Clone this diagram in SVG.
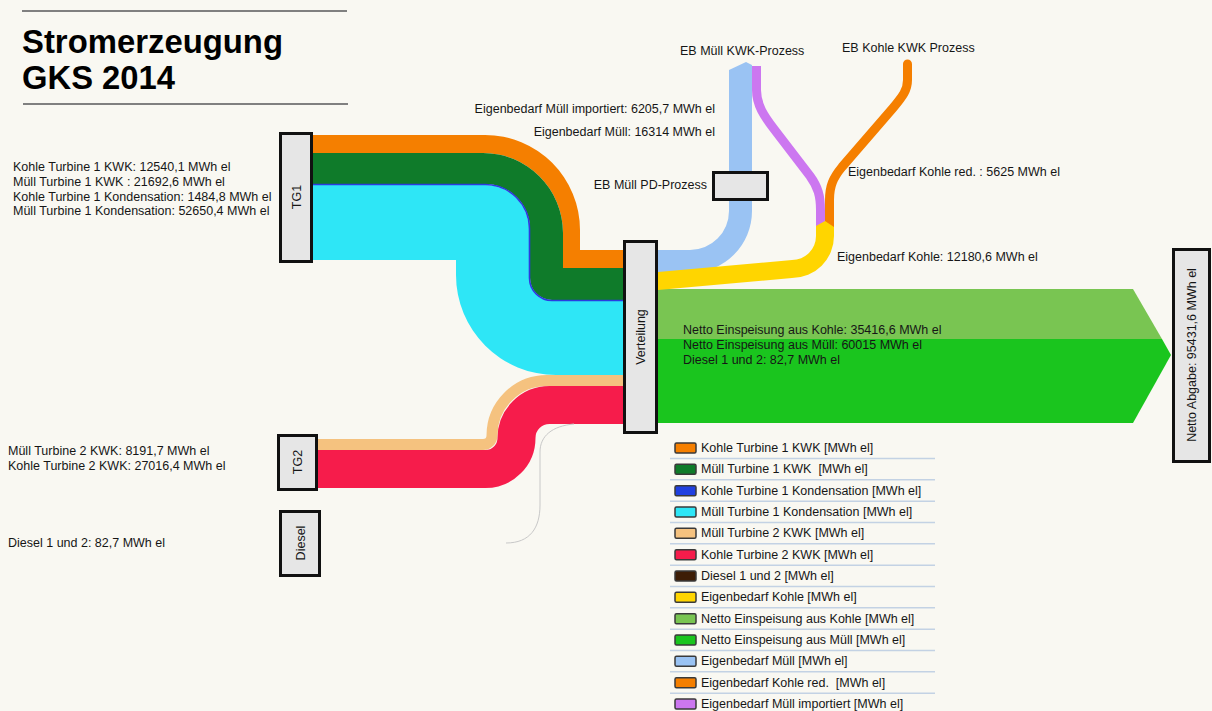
<svg xmlns="http://www.w3.org/2000/svg" width="1212" height="711" viewBox="0 0 1212 711">
<style>
.t{font-family:"Liberation Sans",Arial,sans-serif;font-size:12.5px;fill:#161616}
.title{font-family:"Liberation Sans",Arial,sans-serif;font-size:34px;font-weight:bold;fill:#000}
.node{fill:#e6e6e6;stroke:#111;stroke-width:3}
.sw{stroke:#3a3a3a;stroke-width:1.5}
.sep{stroke:#c3d2e4;stroke-width:1.5}
</style>
<rect x="0" y="0" width="1212" height="711" fill="#f9f8f2"/>
<g id="title">
<line x1="22" y1="11" x2="347" y2="11" stroke="#808080" stroke-width="2"/>
<line x1="23" y1="104" x2="348" y2="104" stroke="#808080" stroke-width="2"/>
<text class="title" x="22" y="53" textLength="261" lengthAdjust="spacingAndGlyphs">Stromerzeugung</text>
<text class="title" x="22" y="89" textLength="153" lengthAdjust="spacingAndGlyphs">GKS 2014</text>
</g>
<g id="connectors">
<path d="M313,135 H485 A95,95 0 0 1 580,230 V250 H623 V268 H563 V233 A80,80 0 0 0 483,153 H313 Z" fill="#f57f00"/>
<path d="M313,153 H483 A80,80 0 0 1 563,233 V268 H623 V300 H552 A22,22 0 0 1 530,278 V229 A45,45 0 0 0 485,184 H313 Z" fill="#0f7b2a"/>
<path d="M313,185 H485 A44,44 0 0 1 529,229 V278 A23,23 0 0 0 552,301 H623 V375 H556 A100,100 0 0 1 456,275 V260 H313 Z" fill="#2ee6f6"/>
<path d="M313,184.5 H485 A44.5,44.5 0 0 1 529.5,229 V278 A22.5,22.5 0 0 0 552,300.5 H623" fill="none" stroke="#2b3be0" stroke-width="1.6"/>
<path d="M318,444.5 H483 A9,9 0 0 0 492,435.5 A55,55 0 0 1 547,380.5 H623" fill="none" stroke="#f5c27f" stroke-width="11"/>
<path d="M318,469 H485.5 A31,31 0 0 0 516.5,438 A33,33 0 0 1 549.5,405 H623" fill="none" stroke="#f61c4b" stroke-width="38"/>
<path d="M506,543 C530,543 540,528 540,505 V452 C540,436 552,426 574,424" fill="none" stroke="#c8c8c8" stroke-width="1"/>
<path d="M658,289 H1133 L1162,339 H658 Z" fill="#79c552"/>
<path d="M658,339 H1162 L1171,355 L1133,423 H658 Z" fill="#1ac51e"/>
<path d="M658,250 H690 A39,39 0 0 0 729,211 V70 L746,62 L752,65 V211 A62,62 0 0 1 690,273 H658 Z" fill="#9ac3f3"/>
<path d="M756.5,66 V90 C756.5,105 764,116 774,129 L810,176 C818,187 820.5,196 820.5,210 V227" fill="none" stroke="#cc77f0" stroke-width="9"/>
<path d="M829.5,228 V200 C829.5,186 833,178 842,167 L893,108 C903,96 907.5,90 907.5,80 V64" fill="none" stroke="#f57f00" stroke-width="9" stroke-linecap="round"/>
<path d="M658,272 L792,260 A24,24 0 0 0 816,236 V226 L825,221 L834,227 V236 A42,42 0 0 1 792,278 L658,290 Z" fill="#ffd500"/>
</g>
<g id="TG1"><rect class="node" x="280.5" y="133.5" width="31" height="128"/><text class="t" transform="translate(300.5,197) rotate(-90)" text-anchor="middle">TG1</text></g>
<g id="TG2"><rect class="node" x="278.5" y="435.5" width="38" height="54"/><text class="t" transform="translate(301.5,462) rotate(-90)" text-anchor="middle">TG2</text></g>
<g id="Diesel"><rect class="node" x="280.5" y="511.5" width="39" height="64"/><text class="t" transform="translate(304.5,543) rotate(-90)" text-anchor="middle">Diesel</text></g>
<g id="Verteilung"><rect class="node" x="624.5" y="241.5" width="32" height="191"/><text class="t" transform="translate(644.5,337) rotate(-90)" text-anchor="middle">Verteilung</text></g>
<g id="PD"><rect class="node" x="713.5" y="172.5" width="54" height="27"/></g>
<g id="NettoAbgabe"><rect class="node" x="1173.5" y="249.5" width="36" height="212"/><text class="t" transform="translate(1196,355) rotate(-90)" text-anchor="middle">Netto Abgabe: 95431,6 MWh el</text></g>
<g id="labels">
<text class="t" x="13" y="171">Kohle Turbine 1 KWK: 12540,1 MWh el</text>
<text class="t" x="13" y="186">Müll Turbine 1 KWK : 21692,6 MWh el</text>
<text class="t" x="13" y="201">Kohle Turbine 1 Kondensation: 1484,8 MWh el</text>
<text class="t" x="13" y="215">Müll Turbine 1 Kondensation: 52650,4 MWh el</text>
<text class="t" x="8" y="455">Müll Turbine 2 KWK: 8191,7 MWh el</text>
<text class="t" x="8" y="470">Kohle Turbine 2 KWK: 27016,4 MWh el</text>
<text class="t" x="8" y="547">Diesel 1 und 2: 82,7 MWh el</text>
<text class="t" x="715" y="113" text-anchor="end">Eigenbedarf Müll importiert: 6205,7 MWh el</text>
<text class="t" x="715" y="136" text-anchor="end">Eigenbedarf Müll: 16314 MWh el</text>
<text class="t" x="707" y="189" text-anchor="end">EB Müll PD-Prozess</text>
<text class="t" x="680" y="55">EB Müll KWK-Prozess</text>
<text class="t" x="842" y="52">EB Kohle KWK Prozess</text>
<text class="t" x="848" y="176">Eigenbedarf Kohle red. : 5625 MWh el</text>
<text class="t" x="837" y="261">Eigenbedarf Kohle: 12180,6 MWh el</text>
<text class="t" x="683" y="334">Netto Einspeisung aus Kohle: 35416,6 MWh el</text>
<text class="t" x="683" y="349">Netto Einspeisung aus Müll: 60015 MWh el</text>
<text class="t" x="683" y="364">Diesel 1 und 2: 82,7 MWh el</text>
</g>
<g id="legend">
<line class="sep" x1="670" y1="458.5" x2="935" y2="458.5"/>
<line class="sep" x1="670" y1="479.8" x2="935" y2="479.8"/>
<line class="sep" x1="670" y1="501.2" x2="935" y2="501.2"/>
<line class="sep" x1="670" y1="522.5" x2="935" y2="522.5"/>
<line class="sep" x1="670" y1="543.8" x2="935" y2="543.8"/>
<line class="sep" x1="670" y1="565.2" x2="935" y2="565.2"/>
<line class="sep" x1="670" y1="586.5" x2="935" y2="586.5"/>
<line class="sep" x1="670" y1="607.8" x2="935" y2="607.8"/>
<line class="sep" x1="670" y1="629.2" x2="935" y2="629.2"/>
<line class="sep" x1="670" y1="650.5" x2="935" y2="650.5"/>
<line class="sep" x1="670" y1="671.8" x2="935" y2="671.8"/>
<line class="sep" x1="670" y1="693.2" x2="935" y2="693.2"/>
<rect class="sw" x="675" y="443" width="21" height="10" rx="1.5" fill="#f57f00"/><text class="t" x="701" y="452">Kohle Turbine 1 KWK [MWh el]</text>
<rect class="sw" x="675" y="464.3" width="21" height="10" rx="1.5" fill="#0f7b2a"/><text class="t" x="701" y="473.3" xml:space="preserve">Müll Turbine 1 KWK  [MWh el]</text>
<rect class="sw" x="675" y="485.7" width="21" height="10" rx="1.5" fill="#2040e0"/><text class="t" x="701" y="494.7">Kohle Turbine 1 Kondensation [MWh el]</text>
<rect class="sw" x="675" y="507" width="21" height="10" rx="1.5" fill="#2ee6f6"/><text class="t" x="701" y="516">Müll Turbine 1 Kondensation [MWh el]</text>
<rect class="sw" x="675" y="528.3" width="21" height="10" rx="1.5" fill="#f5c27f"/><text class="t" x="701" y="537.3">Müll Turbine 2 KWK [MWh el]</text>
<rect class="sw" x="675" y="549.7" width="21" height="10" rx="1.5" fill="#f61c4b"/><text class="t" x="701" y="558.7">Kohle Turbine 2 KWK [MWh el]</text>
<rect class="sw" x="675" y="571" width="21" height="10" rx="1.5" fill="#3d1d05"/><text class="t" x="701" y="580">Diesel 1 und 2 [MWh el]</text>
<rect class="sw" x="675" y="592.3" width="21" height="10" rx="1.5" fill="#ffd500"/><text class="t" x="701" y="601.3">Eigenbedarf Kohle [MWh el]</text>
<rect class="sw" x="675" y="613.7" width="21" height="10" rx="1.5" fill="#79c552"/><text class="t" x="701" y="622.7">Netto Einspeisung aus Kohle [MWh el]</text>
<rect class="sw" x="675" y="635" width="21" height="10" rx="1.5" fill="#1ac51e"/><text class="t" x="701" y="644">Netto Einspeisung aus Müll [MWh el]</text>
<rect class="sw" x="675" y="656.3" width="21" height="10" rx="1.5" fill="#9ac3f3"/><text class="t" x="701" y="665.3">Eigenbedarf Müll [MWh el]</text>
<rect class="sw" x="675" y="677.7" width="21" height="10" rx="1.5" fill="#f57f00"/><text class="t" x="701" y="686.7" xml:space="preserve">Eigenbedarf Kohle red.  [MWh el]</text>
<rect class="sw" x="675" y="699" width="21" height="10" rx="1.5" fill="#cc77f0"/><text class="t" x="701" y="708">Eigenbedarf Müll importiert [MWh el]</text>
</g>
</svg>
